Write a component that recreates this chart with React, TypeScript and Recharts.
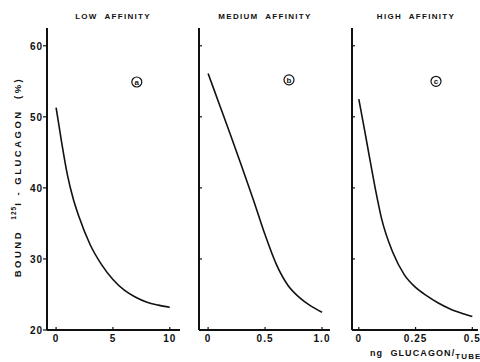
import React from 'react'
import { LineChart, Line, XAxis, YAxis, ReferenceDot } from 'recharts'

// bound 125I-glucagon (%) against ng glucagon per tube, three binding sites
const lowX = [0, 0.5, 1, 1.5, 2, 3, 4, 5, 6, 7, 8, 9, 10]
const lowY = [51.3, 46.3, 41.8, 38.5, 36.0, 32.0, 29.2, 27.1, 25.6, 24.6, 23.9, 23.5, 23.2]

const medX = [0, 0.1, 0.2, 0.3, 0.4, 0.5, 0.6, 0.7, 0.8, 0.9, 1.0]
const medY = [56.1, 51.7, 47.3, 42.8, 38.2, 33.4, 29.2, 26.3, 24.6, 23.4, 22.5]

const highX = [0, 0.025, 0.05, 0.075, 0.1, 0.15, 0.2, 0.25, 0.3, 0.35, 0.4, 0.45, 0.5]
const highY = [52.5, 48.2, 43.8, 39.5, 35.7, 30.9, 27.8, 26.0, 24.8, 23.8, 23.0, 22.4, 21.9]

const yTicks = [20, 30, 40, 50, 60]
const lowTicks = [0, 5, 10]
const medTicks = [0, 0.5, 1]
const highTicks = [0, 0.25, 0.5]
const lowTickLabels = ['0', '5', '10']
const medTickLabels = ['0', '0.5', '1.0']
const highTickLabels = ['0', '0.25', '0.5']

const toRows = (xs: number[], ys: number[]) => xs.map((x, i) => ({ x, y: ys[i] }))

const FONT = '"Liberation Sans", Arial, sans-serif'

const YTick = (props: any) => {
  const { x, y, payload, outside } = props
  return (
    <g>
      <line x1={outside ? x - 4 : x} x2={outside ? x : x + 3} y1={y} y2={y} stroke="#111" strokeWidth={1.2} />
      {outside && (
        <text x={x - 4} y={y} dy={4} textAnchor="end" fontSize={10} fontWeight={700} fontFamily={FONT}
          letterSpacing={1} fill="#111">
          {payload.value}
        </text>
      )}
    </g>
  )
}

const XTick = (props: any) => {
  const { x, y, payload, labels, ticks } = props
  const label = labels[ticks.indexOf(payload.value)] ?? String(payload.value)
  return (
    <g>
      <line x1={x} x2={x} y1={y} y2={y - 3} stroke="#111" strokeWidth={1.2} />
      <text x={x} y={y} dy={12} textAnchor="middle" fontSize={10} fontWeight={700} fontFamily={FONT}
        letterSpacing={1} fill="#111">
        {label}
      </text>
    </g>
  )
}

const Circled = (props: any) => {
  const { cx, cy, letter } = props
  return (
    <g>
      <circle cx={cx} cy={cy} r={5} fill="none" stroke="#111" strokeWidth={1.2} />
      <text x={cx} y={cy} dy={3} textAnchor="middle" fontSize={8} fontWeight={700} fontFamily={FONT} fill="#111">
        {letter}
      </text>
    </g>
  )
}

interface PanelProps {
  rows: { x: number; y: number }[]
  left: number
  width: number
  yWidth: number
  right: number
  domain: [number, number]
  ticks: number[]
  labels: string[]
  outside: boolean
  mark: { x: number; y: number; letter: string }
}

function Panel({ rows, left, width, yWidth, right, domain, ticks, labels, outside, mark }: PanelProps) {
  return (
    <div style={{ position: 'absolute', left, top: 0 }}>
      <LineChart width={width} height={362} data={rows} margin={{ top: 28, right, bottom: 2, left: 0 }}>
        <XAxis
          dataKey="x"
          type="number"
          domain={domain}
          ticks={ticks}
          allowDataOverflow
          height={30}
          tickSize={0}
          tickMargin={0}
          tickLine={false}
          axisLine={{ stroke: '#111', strokeWidth: 2 }}
          tick={<XTick labels={labels} ticks={ticks} />}
          interval={0}
        />
        <YAxis
          type="number"
          domain={[20, 62.5]}
          ticks={yTicks}
          allowDataOverflow
          width={yWidth}
          tickSize={0}
          tickMargin={0}
          tickLine={false}
          axisLine={{ stroke: '#111', strokeWidth: 2 }}
          tick={<YTick outside={outside} />}
          interval={0}
        />
        <Line
          type="monotone"
          dataKey="y"
          stroke="#111"
          strokeWidth={1.6}
          dot={false}
          isAnimationActive={false}
        />
        <ReferenceDot x={mark.x} y={mark.y} shape={<Circled letter={mark.letter} />} />
      </LineChart>
    </div>
  )
}

const titleStyle = {
  fontFamily: FONT,
  fontSize: 8,
  fontWeight: 700,
  letterSpacing: 1.3,
  fill: '#111',
  whiteSpace: 'pre' as const,
}

export default function App() {
  return (
    <div style={{ position: 'absolute', left: 0, top: 0, width: 480, height: 362, background: '#fff' }}>
      <Panel rows={toRows(lowX, lowY)} left={0} width={190} yWidth={47} right={10}
        domain={[-0.8, 10.9]} ticks={lowTicks} labels={lowTickLabels} outside
        mark={{ x: 7.1, y: 54.9, letter: 'a' }} />
      <Panel rows={toRows(medX, medY)} left={190} width={145} yWidth={9} right={5}
        domain={[-0.08, 1.07]} ticks={medTicks} labels={medTickLabels} outside={false}
        mark={{ x: 0.71, y: 55.2, letter: 'b' }} />
      <Panel rows={toRows(highX, highY)} left={335} width={145} yWidth={17} right={2}
        domain={[-0.03, 0.525]} ticks={highTicks} labels={highTickLabels} outside={false}
        mark={{ x: 0.34, y: 55.0, letter: 'c' }} />
      <svg width={480} height={362} style={{ position: 'absolute', left: 0, top: 0, pointerEvents: 'none' }}>
        <text x={113} y={19} textAnchor="middle" style={titleStyle}>{'LOW  AFFINITY'}</text>
        <text x={265} y={19} textAnchor="middle" style={titleStyle}>{'MEDIUM  AFFINITY'}</text>
        <text x={416} y={19} textAnchor="middle" style={titleStyle}>{'HIGH  AFFINITY'}</text>
        <text transform="translate(21,177) rotate(-90)" textAnchor="middle"
          style={{ ...titleStyle, fontSize: 9.5, letterSpacing: 2.5 }}>
          {'BOUND  '}
          <tspan dy={-5} fontSize={6.5} letterSpacing={1}>125</tspan>
          <tspan dy={5}>{'I - GLUCAGON  (%)'}</tspan>
        </text>
        <text x={370} y={356} style={{ ...titleStyle, fontSize: 9, letterSpacing: 1.1 }}>
          {'ng  GLUCAGON/'}
          <tspan dy={3} fontSize={8}>TUBE</tspan>
        </text>
      </svg>
    </div>
  )
}
